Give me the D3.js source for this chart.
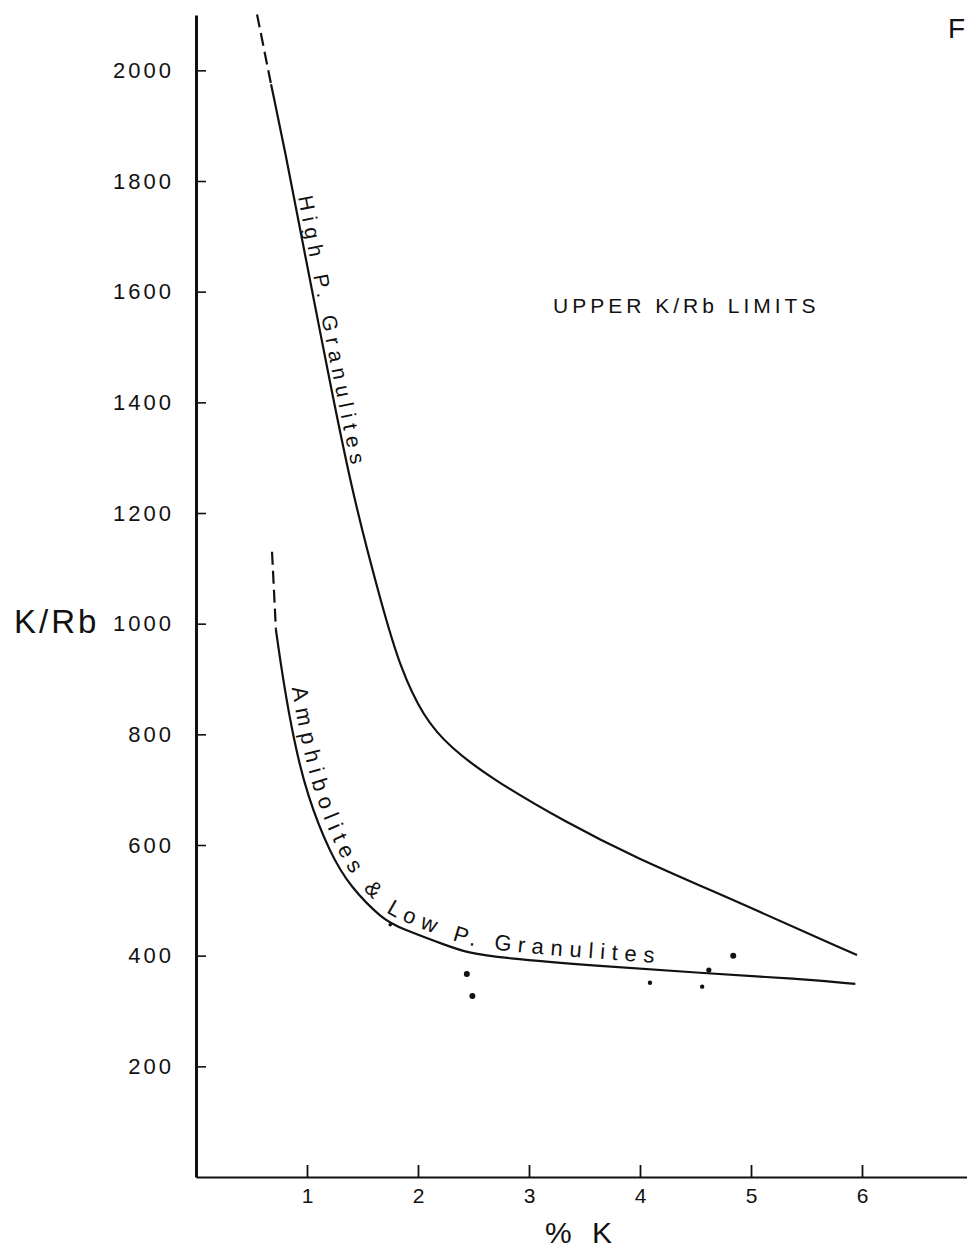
<!DOCTYPE html>
<html>
<head>
<meta charset="utf-8">
<script src="https://cdn.jsdelivr.net/npm/d3@7"></script>
<style>
  body { margin: 0; background: #fff; }
  svg text { font-family: "Liberation Sans", Arial, sans-serif; fill: #111; }
</style>
</head>
<body>
<div id="chart"></div>
<script>
// x ticks (% K) and y ticks (K/Rb)
const xTicks = [1, 2, 3, 4, 5, 6];
const yTicks = [200, 400, 600, 800, 1000, 1200, 1400, 1600, 1800, 2000];

// upper limit curve for high-pressure granulites (% K, K/Rb)
const highDashed = [[0.55, 2101], [0.676, 1975]];
const highCurve = [
    [0.676, 1975], [0.80, 1857], [0.973, 1676], [1.207, 1436], [1.414, 1230],
    [1.685, 1025], [1.838, 922], [2.045, 832], [2.288, 776],
    [2.676, 718], [3.342, 640], [3.937, 579], [4.838, 501], [5.955, 401]
];

// upper limit curve for amphibolites & low-pressure granulites
const lowDashed = [[0.685, 1130], [0.72, 989]];
const lowCurve = [
    [0.72, 989], [0.784, 899], [0.88, 790], [1.0, 690], [1.207, 585], [1.387, 525],
    [1.685, 465], [1.838, 450], [2.288, 416], [2.44, 406], [2.739, 396],
    [3.64, 381], [4.54, 369], [5.44, 358], [5.94, 349]
];

// sample points
const samples = [
    [2.44, 367], [2.49, 327], [4.09, 351], [4.56, 344], [4.62, 374], [4.84, 400], [1.75, 456]
];
const sampleSize = [3, 3, 2.2, 2.2, 2.6, 3, 1.8];

// curve labels: text plus start / end anchor (data units)
const highLabel = { text: "High P. Granulites", from: [0.937, 1772], to: [1.505, 1291] };
const lowLabel = { text: "Amphibolites & Low P. Granulites", from: [0.847, 884], to: [4.135, 410] };

const width = 967, height = 1251;

const x = d3.scaleLinear().domain([0, 7]).range([196, 973]);
const y = d3.scaleLinear().domain([0, 2100]).range([1177, 15]);

const svg = d3.select("#chart").append("svg")
    .attr("width", width)
    .attr("height", height)
    .attr("viewBox", [0, 0, width, height]);

// axes
const yAxis = svg.append("g")
    .attr("transform", `translate(${x(0)},0)`)
    .call(d3.axisLeft(y).tickValues(yTicks).tickFormat(d3.format("d"))
        .tickSizeInner(-10).tickSizeOuter(0).tickPadding(22));
yAxis.select(".domain").attr("stroke", "#111").attr("stroke-width", 3);
yAxis.selectAll(".tick line").attr("stroke", "#111").attr("stroke-width", 1.6);
yAxis.selectAll(".tick text")
    .style("font-size", "22px")
    .style("letter-spacing", "3px")
    .attr("fill", "#111");

const xAxis = svg.append("g")
    .attr("transform", `translate(0,${y(0)})`)
    .call(d3.axisBottom(x).tickValues(xTicks).tickFormat(d3.format("d"))
        .tickSizeInner(-12).tickSizeOuter(0).tickPadding(11));
xAxis.select(".domain").attr("stroke", "#111").attr("stroke-width", 2.2);
xAxis.selectAll(".tick line").attr("stroke", "#111").attr("stroke-width", 1.8);
xAxis.selectAll(".tick text")
    .style("font-size", "21px")
    .attr("fill", "#111");

// axis titles
svg.append("text")
    .attr("x", 14).attr("y", 633)
    .style("font-size", "33px")
    .style("letter-spacing", "3px")
    .text("K/Rb");

svg.append("text")
    .attr("x", 545).attr("y", 1243)
    .style("font-size", "30px")
    .style("letter-spacing", "6px")
    .text("% K");

svg.append("text")
    .attr("x", 553).attr("y", 313)
    .style("font-size", "21px")
    .style("letter-spacing", "4px")
    .text("UPPER K/Rb  LIMITS");

svg.append("text")
    .attr("x", 948).attr("y", 38)
    .style("font-size", "28px")
    .text("F");

// curves
const line = d3.line().x(d => x(d[0])).y(d => y(d[1])).curve(d3.curveBasis);

function drawCurve(id, pts, dashedPts) {
    svg.append("path")
        .attr("d", d3.line().x(d => x(d[0])).y(d => y(d[1]))(dashedPts))
        .attr("fill", "none")
        .attr("stroke", "#111")
        .attr("stroke-width", 2.2)
        .attr("stroke-dasharray", "13,6");
    return svg.append("path")
        .attr("id", id)
        .attr("d", line(pts))
        .attr("fill", "none")
        .attr("stroke", "#111")
        .attr("stroke-width", 2.2);
}

const highPath = drawCurve("high-curve", highCurve, highDashed);
const lowPath = drawCurve("low-curve", lowCurve, lowDashed);

// find length along a path closest to a given data point
function lengthAt(path, p) {
    const node = path.node();
    const total = node.getTotalLength();
    const px = x(p[0]), py = y(p[1]);
    let best = 0, bestD = Infinity;
    for (let l = 0; l <= total; l += 1) {
        const q = node.getPointAtLength(l);
        const d = (q.x - px) ** 2 + (q.y - py) ** 2;
        if (d < bestD) { bestD = d; best = l; }
    }
    return best;
}

function curveLabel(path, id, label, size, dy) {
    const start = lengthAt(path, label.from);
    const end = lengthAt(path, label.to);
    const t = svg.append("text")
        .style("font-size", size + "px")
        .attr("dy", dy);
    t.append("textPath")
        .attr("href", "#" + id)
        .attr("startOffset", start)
        .text(label.text);
    const natural = t.node().getComputedTextLength();
    const n = label.text.length;
    const ls = Math.max(0, (end - start - natural) / (n - 1));
    t.style("letter-spacing", ls + "px");
}

curveLabel(highPath, "high-curve", highLabel, 21, -4);
curveLabel(lowPath, "low-curve", lowLabel, 22, -7);

// sample points
svg.append("g")
    .selectAll("circle")
    .data(samples)
    .join("circle")
    .attr("cx", d => x(d[0]))
    .attr("cy", d => y(d[1]))
    .attr("r", (d, i) => sampleSize[i])
    .attr("fill", "#111");
</script>
</body>
</html>
